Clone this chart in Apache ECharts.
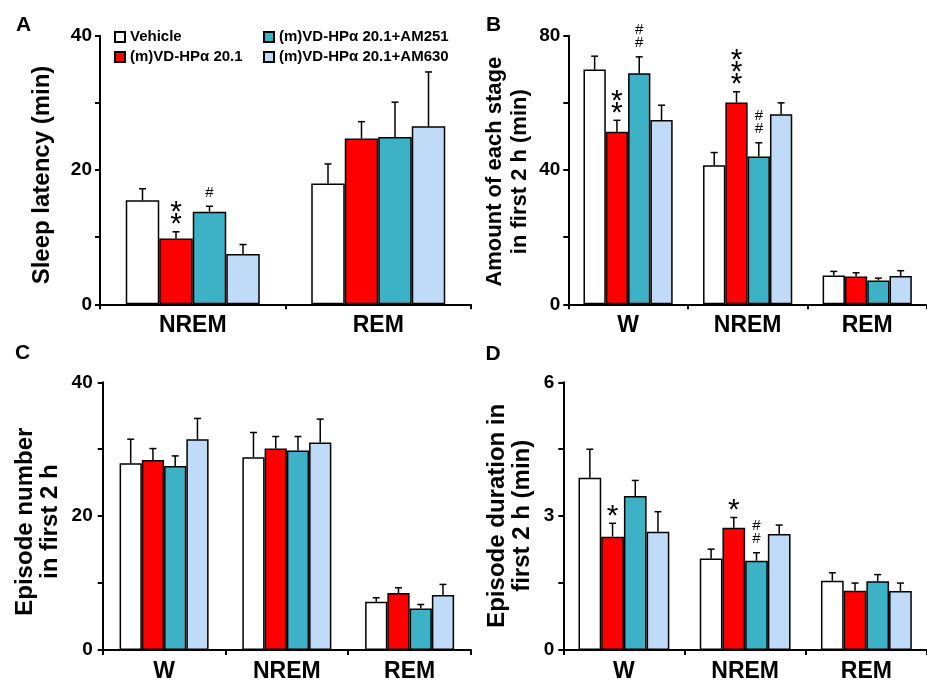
<!DOCTYPE html>
<html><head><meta charset="utf-8">
<script src="https://cdn.jsdelivr.net/npm/echarts@6.0.0/dist/echarts.min.js"></script>
<style>html,body{margin:0;padding:0;background:#fff}#c{width:927px;height:684px}</style>
</head><body><div id="c"></div>
<script>
// ---------- data ----------
const groupNames = ['Vehicle', '(m)VD-HPα 20.1', '(m)VD-HPα 20.1+AM251', '(m)VD-HPα 20.1+AM630'];
const catsA = ['NREM', 'REM'];
const catsBCD = ['W', 'NREM', 'REM'];

// Panel A: Sleep latency (min)
const vehicleA = [15.5, 18.0];   const vehicleA_sem = [1.7, 2.9];
const redA     = [9.8, 24.7];    const redA_sem     = [1.0, 2.5];
const tealA    = [13.8, 24.9];   const tealA_sem    = [0.8, 5.2];
const lightA   = [7.5, 26.5];    const lightA_sem   = [1.4, 8.1];

// Panel B: Amount of each stage in first 2 h (min)
const vehicleB = [69.9, 41.4, 8.6]; const vehicleB_sem = [4.0, 3.8, 1.2];
const redB     = [51.4, 60.1, 8.3]; const redB_sem     = [3.4, 3.2, 1.1];
const tealB    = [68.8, 44.0, 7.1]; const tealB_sem    = [4.9, 4.1, 0.7];
const lightB   = [54.9, 56.6, 8.4]; const lightB_sem   = [4.4, 3.4, 1.6];

// Panel C: Episode number in first 2 h
const vehicleC = [27.9, 28.8, 7.2]; const vehicleC_sem = [3.6, 3.7, 0.6];
const redC     = [28.4, 30.1, 8.5]; const redC_sem     = [1.7, 1.8, 0.8];
const tealC    = [27.5, 29.8, 6.2]; const tealC_sem    = [1.5, 2.1, 0.6];
const lightC   = [31.5, 31.0, 8.2]; const lightC_sem   = [3.1, 3.5, 1.6];

// Panel D: Episode duration in first 2 h (min)
const vehicleD = [3.86, 2.05, 1.55]; const vehicleD_sem = [0.64, 0.21, 0.18];
const redD     = [2.54, 2.74, 1.33]; const redD_sem     = [0.30, 0.23, 0.17];
const tealD    = [3.45, 2.00, 1.54]; const tealD_sem    = [0.35, 0.18, 0.15];
const lightD   = [2.65, 2.60, 1.32]; const lightD_sem   = [0.45, 0.20, 0.18];

// significance marks: series index, category index, text
const marksA = [{s: 1, c: 0, t: '**'}, {s: 2, c: 0, t: '#'}];
const marksB = [{s: 1, c: 0, t: '**'}, {s: 2, c: 0, t: '##'}, {s: 1, c: 1, t: '***'}, {s: 2, c: 1, t: '##'}];
const marksC = [];
const marksD = [{s: 1, c: 0, t: '*'}, {s: 1, c: 1, t: '*'}, {s: 2, c: 1, t: '##'}];

// y-axis ranges
const yMaxA = 40, yStepA = 10, yLabelStepA = 20;
const yMaxB = 80, yStepB = 20, yLabelStepB = 40;
const yMaxC = 40, yStepC = 10, yLabelStepC = 20;
const yMaxD = 6, yStepD = 1.5, yLabelStepD = 3;

// ---------- styles / layout ----------
const FONT = '"Liberation Sans", Arial, sans-serif';
const colors = ['#ffffff', '#ff0000', '#3db2c6', '#bfdbf7'];

const panels = [
  {cats: catsA, means: [vehicleA, redA, tealA, lightA], sems: [vehicleA_sem, redA_sem, tealA_sem, lightA_sem], marks: marksA,
   max: yMaxA, step: yStepA, lstep: yLabelStepA,
   grid: {left: 100, top: 35.7, width: 371, height: 268.6}, bw: 33.5, lblMargin: 8},
  {cats: catsBCD, means: [vehicleB, redB, tealB, lightB], sems: [vehicleB_sem, redB_sem, tealB_sem, lightB_sem], marks: marksB,
   max: yMaxB, step: yStepB, lstep: yLabelStepB,
   grid: {left: 568.3, top: 35.7, width: 368, height: 268.6}, bw: 22.3, lblMargin: 8},
  {cats: catsBCD, means: [vehicleC, redC, tealC, lightC], sems: [vehicleC_sem, redC_sem, tealC_sem, lightC_sem], marks: marksC,
   max: yMaxC, step: yStepC, lstep: yLabelStepC,
   grid: {left: 102.7, top: 382.3, width: 368.3, height: 267.7}, bw: 22.25, lblMargin: 10},
  {cats: catsBCD, means: [vehicleD, redD, tealD, lightD], sems: [vehicleD_sem, redD_sem, tealD_sem, lightD_sem], marks: marksD,
   max: yMaxD, step: yStepD, lstep: yLabelStepD,
   grid: {left: 563.3, top: 382.3, width: 375, height: 267.7}, bw: 22.7, lblMargin: 9}
];

const grids = [], xAxes = [], yAxes = [], series = [];

function errRender(sIdx, bw, marks) {
  return function (params, api) {
    const c = api.value(0), m = api.value(1), e = api.value(2);
    const base = api.coord([c, m]);
    const top = api.coord([c, m + e]);
    const x = base[0] + (sIdx - 1.5) * bw;
    const cap = 3.5;
    const children = [
      {type: 'line', shape: {x1: x, y1: base[1], x2: x, y2: top[1]}, style: {stroke: '#000', lineWidth: 1.5}},
      {type: 'line', shape: {x1: x - cap, y1: top[1], x2: x + cap, y2: top[1]}, style: {stroke: '#000', lineWidth: 1.5}}
    ];
    const mk = marks.find(k => k.s === sIdx && k.c === c);
    if (mk) {
      const chars = mk.t.split('');
      const gap = 9;
      chars.forEach((ch, i) => {
        const star = ch === '*';
        const fs = star ? 30 : 15;
        const sp = star ? 12 : 13;
        const half = star ? 4.5 : 4.5;
        const off = star ? 0.23 * fs : 0;
        const cy = top[1] - gap - half - i * sp;
        children.push({type: 'text', x: x, y: cy + off,
          style: {text: ch, font: 'normal ' + fs + 'px "Liberation Sans", Arial, sans-serif', fill: '#000', align: 'center', verticalAlign: 'middle'}});
      });
    }
    return {type: 'group', children};
  };
}

panels.forEach((p, gi) => {
  grids.push(Object.assign({}, p.grid));
  xAxes.push({
    type: 'category', gridIndex: gi, data: p.cats,
    axisLine: {lineStyle: {color: '#000', width: 2}},
    axisTick: {show: true, length: 5, lineStyle: {color: '#000', width: 2}},
    axisLabel: {fontSize: 23, fontWeight: 'bold', fontFamily: FONT, color: '#000', margin: 10},
    splitLine: {show: false}
  });
  yAxes.push({
    type: 'value', gridIndex: gi, min: 0, max: p.max, interval: p.step,
    axisLine: {show: true, lineStyle: {color: '#000', width: 2}},
    axisTick: {show: true, length: 5, lineStyle: {color: '#000', width: 2}},
    axisLabel: {fontSize: 19, fontWeight: 'bold', fontFamily: FONT, color: '#000', margin: p.lblMargin,
      formatter: v => (Math.abs(v / p.lstep - Math.round(v / p.lstep)) < 1e-6 ? String(v) : '')},
    splitLine: {show: false}
  });
  p.means.forEach((arr, si) => {
    series.push({
      type: 'bar', name: groupNames[si], xAxisIndex: gi, yAxisIndex: gi,
      data: arr, barWidth: p.bw, barGap: '0%',
      itemStyle: {color: colors[si], borderColor: '#000', borderWidth: 1.5},
      emphasis: {disabled: true}, z: 2
    });
  });
  p.means.forEach((arr, si) => {
    series.push({
      type: 'custom', xAxisIndex: gi, yAxisIndex: gi, z: 5, silent: true,
      data: arr.map((v, ci) => [ci, v, p.sems[si][ci]]),
      encode: {x: 0, y: 1},
      renderItem: errRender(si, p.bw, p.marks)
    });
  });
});

const legendBase = {
  orient: 'vertical', icon: 'rect', itemWidth: 10, itemHeight: 10, itemGap: 5, padding: 0,
  selectedMode: false,
  textStyle: {fontSize: 15, fontWeight: 'bold', fontFamily: FONT, color: '#000'}
};

const titleStyle = {fontSize: 23, fontWeight: 'bold', fontFamily: FONT, fill: '#000', align: 'center', verticalAlign: 'middle', lineHeight: 25};
const letterStyle = {fontSize: 21, fontWeight: 'bold', fontFamily: FONT, fill: '#000', align: 'center', verticalAlign: 'middle'};

const option = {
  animation: false,
  backgroundColor: '#fff',
  grid: grids, xAxis: xAxes, yAxis: yAxes, series: series,
  legend: [
    Object.assign({}, legendBase, {data: [groupNames[0], groupNames[1]], left: 114, top: 29.5}),
    Object.assign({}, legendBase, {data: [groupNames[2], groupNames[3]], left: 263, top: 29.5})
  ],
  graphic: [
    {type: 'text', x: 23.7, y: 25, style: Object.assign({text: 'A'}, letterStyle)},
    {type: 'text', x: 493.5, y: 25, style: Object.assign({text: 'B'}, letterStyle)},
    {type: 'text', x: 22.5, y: 353.5, style: Object.assign({text: 'C'}, letterStyle)},
    {type: 'text', x: 493, y: 354.5, style: Object.assign({text: 'D'}, letterStyle)},
    {type: 'text', x: 42, y: 175, rotation: Math.PI / 2, style: Object.assign({}, titleStyle, {fontSize: 24, text: 'Sleep latency (min)'})},
    {type: 'text', x: 507.5, y: 171.7, rotation: Math.PI / 2, style: Object.assign({}, titleStyle, {fontSize: 22, text: 'Amount of each stage\nin first 2 h (min)'})},
    {type: 'text', x: 37.5, y: 521.7, rotation: Math.PI / 2, style: Object.assign({}, titleStyle, {fontSize: 24, text: 'Episode number\nin first 2 h'})},
    {type: 'text', x: 510, y: 515.8, rotation: Math.PI / 2, style: Object.assign({}, titleStyle, {fontSize: 24, text: 'Episode duration in\nfirst 2 h (min)'})}
  ]
};

const chart = echarts.init(document.getElementById('c'), null, {renderer: 'canvas'});
chart.setOption(option);
</script>
</body></html>
